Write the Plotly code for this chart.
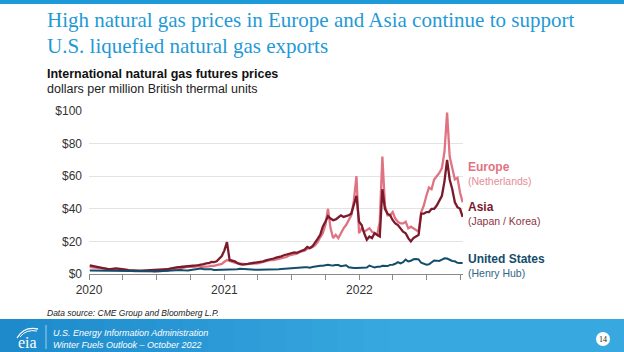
import plotly.graph_objects as go
import pandas as pd

# ---------------- data (weekly) ----------------
start_date = '2020-01-03'
n_weeks = 145

europe_2020 = [4.3, 4.1, 3.8, 3.6, 3.3, 3.2, 3.0, 3.1, 3.0, 3.0, 2.7, 2.6, 2.3,
               2.3, 2.4, 2.2, 2.1, 1.8, 1.8, 1.6, 1.5, 1.6, 1.8, 1.9, 1.7, 1.9,
               1.8, 1.8, 2.0, 2.0, 2.0, 2.6, 3.0, 3.2, 3.3, 3.4, 3.6, 4.2, 4.4,
               4.5, 4.3, 4.5, 4.8, 4.3, 4.3, 4.6, 4.7, 5.0, 5.0, 5.5, 6.0, 6.2]
europe_2021 = [7.5, 8.6, 8.0, 7.3, 6.9, 6.6, 6.4, 6.0, 6.0, 6.1, 6.2, 6.3, 6.3,
               6.6, 7.0, 7.4, 7.8, 8.5, 8.6, 8.5, 8.9, 9.2, 9.5, 9.9, 10.4, 11.4,
               11.8, 12.0, 12.5, 13.5, 13.8, 14.3, 15.5, 16.0, 16.5, 17.5, 19.5,
               22.5, 25.0, 30.0, 40.0, 28.0, 22.0, 24.0, 22.0, 25.0, 28.0, 30.0,
               33.0, 36.0, 45.0, 60.0, 25.0]
europe_2022 = [28, 26, 27, 28, 26, 25, 24, 32, 72, 42, 36, 36, 38, 34, 32, 31,
               31, 32, 28, 29, 28, 27, 26, 38, 42, 48, 53, 52, 58, 60, 62, 65,
               75, 99, 72, 65, 58, 59, 50, 44]

asia_2020 = [5.3, 5.0, 4.5, 4.2, 3.8, 3.4, 3.1, 3.0, 3.0, 3.3, 3.4, 3.3, 3.2,
             2.8, 2.6, 2.4, 2.2, 2.1, 2.0, 2.0, 2.0, 2.1, 2.2, 2.1, 2.1, 2.1,
             2.3, 2.4, 2.4, 2.6, 2.9, 3.3, 3.7, 4.0, 4.2, 4.3, 4.4, 4.5, 4.8,
             5.0, 5.2, 5.3, 5.5, 5.6, 6.0, 6.5, 6.6, 7.4, 7.3, 7.8, 9.5, 11.0]
asia_2021 = [14.5, 19.6, 8.6, 8.2, 7.8, 6.8, 6.0, 5.8, 5.8, 6.2, 6.5, 6.7, 6.8,
             7.0, 7.3, 7.8, 8.3, 8.6, 9.0, 9.5, 10.0, 10.2, 10.8, 11.5, 12.0,
             12.5, 12.8, 13.2, 13.0, 13.8, 14.5, 15.0, 16.6, 15.8, 17.0, 19.0,
             21.5, 24.0, 29.0, 32.0, 35.5, 34.0, 33.0, 33.5, 35.0, 36.0, 35.0,
             35.5, 36.0, 37.0, 43.0, 48.0, 32.0]
asia_2022 = [30, 25, 21, 23, 22, 25, 24, 23, 52, 40, 37, 36, 33, 31, 30, 28,
             26, 25, 22, 20, 22, 23, 24, 37, 37, 38, 38, 40, 40, 42, 45, 48,
             57, 70, 58, 52, 44, 41, 40, 35]

us_2020 = [2.1, 2.1, 2.0, 1.9, 1.85, 1.85, 1.9, 1.9, 1.7, 1.75, 1.85, 1.65, 1.65,
           1.7, 1.75, 1.75, 1.9, 1.9, 1.8, 1.75, 1.7, 1.85, 1.8, 1.75, 1.65, 1.6,
           1.7, 1.8, 1.7, 1.75, 1.8, 2.1, 2.3, 2.4, 2.6, 2.45, 2.25, 2.0, 2.1,
           2.5, 2.8, 2.8, 3.0, 3.35, 2.9, 2.95, 2.65, 2.85, 2.45, 2.45, 2.65, 2.55]
us_2021 = [2.55, 2.7, 2.55, 2.45, 2.55, 2.85, 3.2, 3.05, 2.75, 2.7, 2.6, 2.55,
           2.55, 2.55, 2.55, 2.65, 2.75, 2.9, 2.95, 3.0, 2.95, 2.95, 3.1, 3.25,
           3.25, 3.5, 3.65, 3.7, 3.7, 3.95, 3.9, 4.1, 4.1, 3.9, 4.3, 4.6, 5.0,
           5.1, 5.1, 5.6, 5.7, 5.4, 5.2, 5.5, 5.5, 4.8, 5.0, 5.4, 4.1, 3.8, 3.7,
           3.75, 3.8]
us_2022 = [3.9, 4.3, 4.0, 5.2, 4.6, 3.95, 4.4, 4.4, 5.0, 4.7, 4.85, 5.6, 5.7,
           6.3, 7.3, 6.5, 7.2, 8.8, 7.7, 8.1, 9.0, 9.2, 9.0, 6.9, 6.2, 5.7, 6.0,
           7.0, 8.3, 8.2, 8.0, 8.8, 9.6, 9.5, 8.8, 8.0, 7.8, 6.9, 6.8, 6.75]

tick_dates = ['2020-01-01', '2020-04-01', '2020-07-01', '2020-10-01',
              '2021-01-01', '2021-04-01', '2021-07-01', '2021-10-01',
              '2022-01-01', '2022-04-01', '2022-07-01', '2022-10-01']
tick_labels = ['2020', '', '', '', '2021', '', '', '', '2022', '', '', '']
y_ticks = [0, 20, 40, 60, 80, 100]
y_labels = ['$0', '$20', '$40', '$60', '$80', '$100']

dates = pd.date_range(start_date, periods=n_weeks, freq='7D')
europe = europe_2020 + europe_2021 + europe_2022
asia = asia_2020 + asia_2021 + asia_2022
us = us_2020 + us_2021 + us_2022

C_EU = '#e07381'
C_AS = '#7a1a2b'
C_US = '#134d6a'
C_TITLE = '#1f9ad6'

# ---------------- figure ----------------
W, H = 624, 352
L, R, T, B = 89, 463, 110, 274


def px(x):
    return (x - L) / (R - L)


def py(y):
    return (B - y) / (B - T)


fig = go.Figure()
fig.add_trace(go.Scatter(x=dates, y=europe, mode='lines',
                         line=dict(color=C_EU, width=2.3), name='Europe'))
fig.add_trace(go.Scatter(x=dates, y=asia, mode='lines',
                         line=dict(color=C_AS, width=2.3), name='Asia'))
fig.add_trace(go.Scatter(x=dates, y=us, mode='lines',
                         line=dict(color=C_US, width=2), name='United States'))

fig.update_layout(
    width=W, height=H, autosize=False,
    margin=dict(l=L, r=W - R, t=T, b=H - B, pad=0),
    paper_bgcolor='white', plot_bgcolor='white',
    showlegend=False,
    font=dict(family='Liberation Sans, Arial', color='#333333'),
)
fig.update_xaxes(
    type='date', range=['2020-01-01', '2022-10-08'],
    tickvals=tick_dates, ticktext=tick_labels,
    ticks='outside', ticklen=5, tickcolor='#8a8a8a', tickwidth=1,
    showline=True, linecolor='#8a8a8a', linewidth=1,
    showgrid=False, zeroline=False,
    tickfont=dict(size=12, color='#333333'),
)
fig.update_yaxes(
    range=[0, 100.6], tickvals=y_ticks, ticktext=y_labels,
    showgrid=True, gridcolor='#e3e3e3', gridwidth=1,
    zeroline=False, showline=False, ticks='',
    ticklabelstandoff=6,
    tickfont=dict(size=12, color='#333333'),
)

shapes = []
# top stripe
shapes.append(dict(type='rect', xref='paper', yref='paper', x0=px(0), x1=px(W),
                   y0=py(0), y1=py(4), fillcolor='#1d9ad7', line=dict(width=0)))
# footer band (gradient in slices)
c0 = (30, 138, 204)
c1 = (56, 168, 224)
n = 24
for i in range(n):
    t = i / (n - 1)
    tt = min(1.0, t * 1.6)
    col = tuple(int(c0[k] + (c1[k] - c0[k]) * tt) for k in range(3))
    shapes.append(dict(type='rect', xref='paper', yref='paper',
                       x0=px(W * i / n), x1=px(W * (i + 1) / n + 0.5),
                       y0=py(319), y1=py(H), fillcolor='rgb(%d,%d,%d)' % col,
                       line=dict(width=0)))
# divider
shapes.append(dict(type='line', xref='paper', yref='paper', x0=px(46), x1=px(46),
                   y0=py(325), y1=py(349), line=dict(color='rgba(255,255,255,0.6)', width=1)))
# eia swoosh
shapes.append(dict(type='path', xref='paper', yref='paper',
                   path='M %f %f Q %f %f %f %f' % (px(17), py(338), px(24), py(326), px(38), py(329)),
                   line=dict(color='white', width=1.3)))
shapes.append(dict(type='path', xref='paper', yref='paper',
                   path='M %f %f Q %f %f %f %f' % (px(20), py(337), px(26), py(329), px(37), py(331)),
                   line=dict(color='white', width=1)))
# page number circle
shapes.append(dict(type='circle', xref='paper', yref='paper', x0=px(596), x1=px(610),
                   y0=py(332), y1=py(346), fillcolor='white', line=dict(width=0)))
fig.update_layout(shapes=shapes)


def ann(text, x, y, size, color, family='Liberation Sans, Arial', xanchor='left'):
    fig.add_annotation(text=text, x=px(x), y=py(y), xref='paper', yref='paper',
                       xanchor=xanchor, yanchor='middle', showarrow=False,
                       font=dict(size=size, color=color, family=family))


ann('High natural gas prices in Europe and Asia continue to support', 45, 20, 21,
    C_TITLE, 'Liberation Serif, Times New Roman')
ann('U.S. liquefied natural gas exports', 45, 46, 21, C_TITLE,
    'Liberation Serif, Times New Roman')
ann('<b>International natural gas futures prices</b>', 45, 74, 12.5, '#111111')
ann('dollars per million British thermal units', 45, 89, 12.5, '#222222')

ann('<b>Europe</b>', 466, 167, 12, C_EU)
ann('(Netherlands)', 466, 181, 10.5, '#e58e98')
ann('<b>Asia</b>', 466, 207, 12, C_AS)
ann('(Japan / Korea)', 466, 221, 10.5, '#8c3442')
ann('<b>United States</b>', 466, 259, 12, C_US)
ann('(Henry Hub)', 466, 273, 10.5, '#2f6585')

ann('<i>Data source: CME Group and Bloomberg L.P.</i>', 45, 313, 8.5, '#222222')
ann('<i>U.S. Energy Information Administration</i>', 51, 333, 9, 'white')
ann('<i>Winter Fuels Outlook – October 2022</i>', 51, 345, 9, 'white')
ann('eia', 27, 342, 16, 'white', 'Liberation Serif, Times New Roman', 'center')
ann('14', 603, 339.5, 8, '#222222', 'Liberation Serif, Times New Roman', 'center')

fig.write_html('out.html')
